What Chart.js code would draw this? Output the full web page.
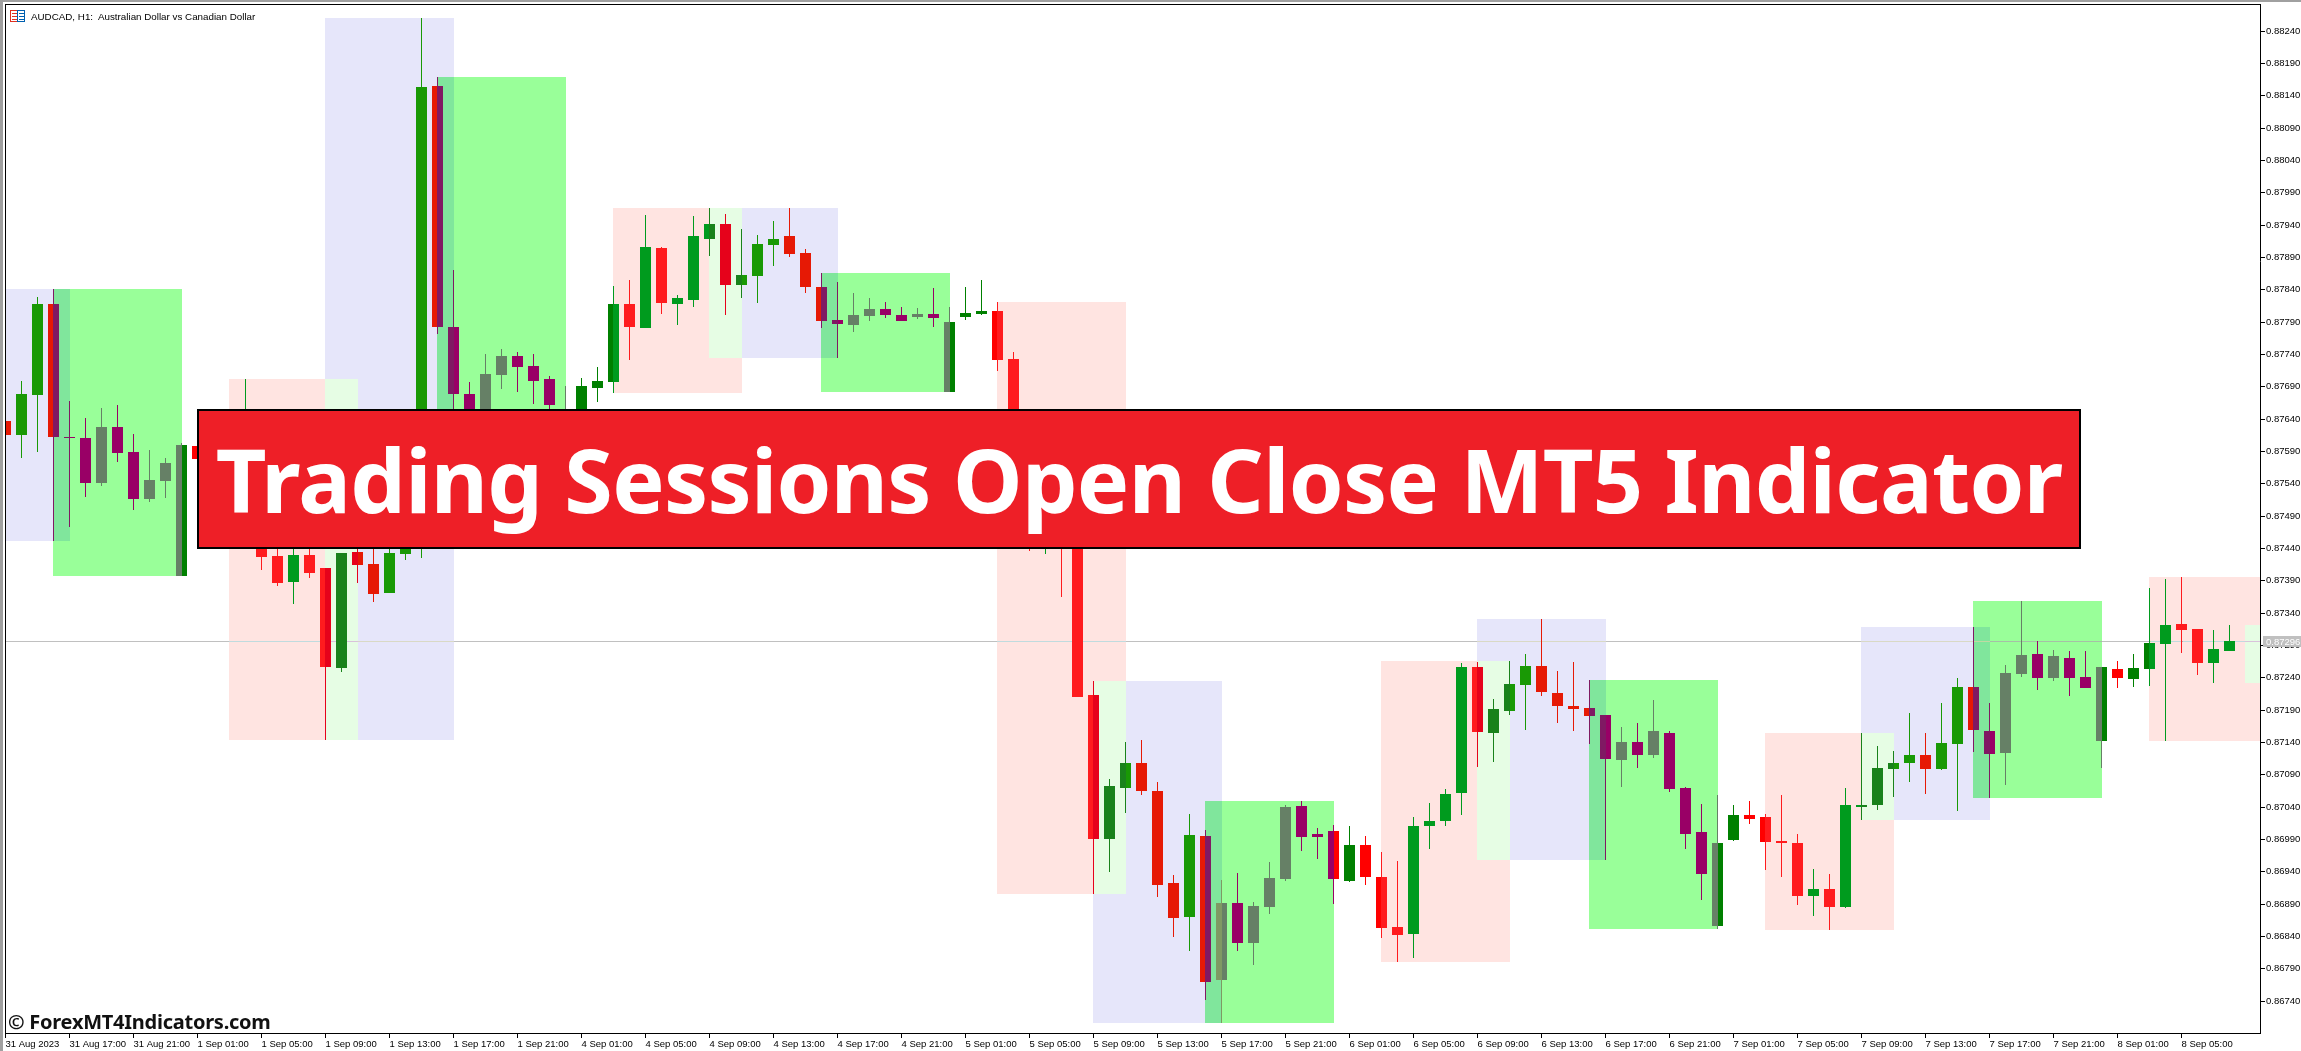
<!DOCTYPE html>
<html>
<head>
<meta charset="utf-8">
<title>AUDCAD H1 Trading Sessions</title>
<script src="https://cdn.jsdelivr.net/npm/chart.js@4/dist/chart.umd.min.js"></script>
<style>
    html, body { margin: 0; padding: 0; background: #fff; overflow: hidden; }
    #wrap { position: relative; width: 2301px; height: 1051px; }
    canvas { position: absolute; left: 0; top: 0; }
    .symbol { position: absolute; left: 31px; top: 10px; font: 9.8px/14px 'Liberation Sans', sans-serif; color: #000; white-space: pre; }
    .stamp { position: absolute; left: 8px; top: 1009px; font: bold 20px/26px 'Noto Sans', sans-serif; letter-spacing: -0.25px; color: #111; white-space: pre; }
    .banner { position: absolute; left: 197px; top: 409px; width: 1880px; height: 136px; border: 2px solid #000; background: #ee1f27; color: #fff; font: bold 88px/136px 'Noto Sans', sans-serif; letter-spacing: -0.7px; text-align: center; white-space: pre; }
</style>
</head>
<body>
<div id="wrap">
    <canvas id="canvas" width="2301" height="1051"></canvas>
    <div class="symbol">AUDCAD, H1:  Australian Dollar vs Canadian Dollar</div>
    <div class="stamp">© ForexMT4Indicators.com</div>
    <div class="banner">Trading Sessions Open Close MT5 Indicator</div>
</div>
<script>
const opens = [
    0.87636,0.87615,0.87676,0.87817,0.87611,0.87610,0.87540,0.87627,0.87588,0.87516,
    0.87543,0.87397,0.87598,0.87568,0.87530,0.87560,0.87499,0.87427,0.87387,0.87429,
    0.87409,0.87254,0.87434,0.87415,0.87370,0.87431,0.87452,0.88154,0.87782,0.87678,
    0.87622,0.87707,0.87737,0.87721,0.87701,0.87622,0.87607,0.87687,0.87697,0.87817,
    0.87780,0.87904,0.87817,0.87823,0.87918,0.87941,0.87846,0.87860,0.87908,0.87922,
    0.87896,0.87843,0.87792,0.87785,0.87799,0.87809,0.87800,0.87797,0.87802,0.87681,
    0.87797,0.87802,0.87806,0.87732,0.87560,0.87491,0.87537,0.87468,0.87213,0.86990,
    0.87069,0.87108,0.87064,0.86922,0.86870,0.86995,0.86772,0.86891,0.86829,0.86885,
    0.86928,0.87041,0.86998,0.87002,0.86925,0.86981,0.86931,0.86854,0.86843,0.87010,
    0.87018,0.87061,0.87256,0.87154,0.87188,0.87228,0.87257,0.87216,0.87196,0.87193,
    0.87182,0.87112,0.87140,0.87120,0.87154,0.87069,0.87001,0.86856,0.86988,0.87027,
    0.87024,0.86987,0.86984,0.86902,0.86913,0.86885,0.87040,0.87043,0.87098,0.87108,
    0.87120,0.87098,0.87137,0.87225,0.87157,0.87123,0.87245,0.87276,0.87239,0.87270,
    0.87240,0.87142,0.87253,0.87237,0.87253,0.87292,0.87322,0.87315,0.87262,0.87281
];
const highs = [
    0.87636,0.87698,0.87828,0.87840,0.87667,0.87641,0.87656,0.87661,0.87616,0.87591,
    0.87579,0.87602,0.87607,0.87576,0.87575,0.87701,0.87530,0.87480,0.87470,0.87465,
    0.87409,0.87432,0.87490,0.87480,0.87470,0.87490,0.88259,0.88168,0.87870,0.87697,
    0.87740,0.87748,0.87743,0.87740,0.87706,0.87690,0.87703,0.87720,0.87845,0.87854,
    0.87955,0.87905,0.87831,0.87953,0.87966,0.87956,0.87933,0.87924,0.87945,0.87966,
    0.87902,0.87865,0.87851,0.87834,0.87826,0.87820,0.87812,0.87811,0.87842,0.87812,
    0.87843,0.87854,0.87820,0.87743,0.87607,0.87560,0.87560,0.87483,0.87234,0.87083,
    0.87140,0.87143,0.87078,0.86934,0.87029,0.87004,0.86927,0.86937,0.86893,0.86955,
    0.87043,0.87049,0.87007,0.87012,0.87010,0.86995,0.86970,0.86956,0.87024,0.87046,
    0.87067,0.87262,0.87264,0.87206,0.87265,0.87276,0.87330,0.87250,0.87264,0.87236,
    0.87182,0.87163,0.87169,0.87205,0.87157,0.87071,0.87044,0.87058,0.87043,0.87049,
    0.87029,0.87058,0.86998,0.86944,0.86936,0.87069,0.87154,0.87134,0.87126,0.87185,
    0.87154,0.87200,0.87239,0.87318,0.87200,0.87259,0.87358,0.87296,0.87282,0.87281,
    0.87281,0.87256,0.87265,0.87276,0.87378,0.87392,0.87395,0.87315,0.87313,0.87321
];
const lows = [
    0.87615,0.87579,0.87588,0.87451,0.87472,0.87519,0.87536,0.87573,0.87499,0.87511,
    0.87517,0.87397,0.87568,0.87483,0.87510,0.87530,0.87406,0.87381,0.87353,0.87394,
    0.87143,0.87248,0.87386,0.87356,0.87370,0.87421,0.87424,0.87771,0.87607,0.87599,
    0.87607,0.87686,0.87681,0.87662,0.87638,0.87607,0.87591,0.87666,0.87680,0.87730,
    0.87780,0.87802,0.87785,0.87812,0.87891,0.87800,0.87826,0.87819,0.87876,0.87890,
    0.87834,0.87780,0.87734,0.87774,0.87791,0.87795,0.87791,0.87794,0.87782,0.87681,
    0.87792,0.87800,0.87714,0.87553,0.87435,0.87431,0.87364,0.87210,0.86905,0.86939,
    0.87030,0.87058,0.86900,0.86839,0.86817,0.86741,0.86706,0.86817,0.86795,0.86874,
    0.86925,0.86972,0.86959,0.86890,0.86924,0.86919,0.86837,0.86800,0.86806,0.86975,
    0.87010,0.87027,0.87101,0.87109,0.87182,0.87159,0.87211,0.87169,0.87157,0.87137,
    0.86958,0.87071,0.87100,0.87115,0.87063,0.86975,0.86896,0.86851,0.86987,0.87013,
    0.86942,0.86931,0.86888,0.86871,0.86849,0.86883,0.87019,0.87035,0.87055,0.87078,
    0.87060,0.87097,0.87033,0.87125,0.87053,0.87074,0.87240,0.87220,0.87234,0.87211,
    0.87224,0.87100,0.87224,0.87225,0.87227,0.87142,0.87278,0.87244,0.87231,0.87281
];
const closes = [
    0.87615,0.87678,0.87817,0.87611,0.87610,0.87540,0.87627,0.87587,0.87516,0.87545,
    0.87571,0.87599,0.87577,0.87530,0.87560,0.87620,0.87426,0.87386,0.87429,0.87401,
    0.87256,0.87432,0.87414,0.87369,0.87432,0.87468,0.88152,0.87782,0.87678,0.87622,
    0.87709,0.87737,0.87720,0.87698,0.87661,0.87645,0.87690,0.87698,0.87817,0.87782,
    0.87905,0.87819,0.87826,0.87922,0.87941,0.87846,0.87862,0.87910,0.87918,0.87894,
    0.87843,0.87791,0.87786,0.87800,0.87809,0.87800,0.87791,0.87802,0.87795,0.87789,
    0.87803,0.87806,0.87730,0.87560,0.87499,0.87537,0.87468,0.87210,0.86990,0.87072,
    0.87108,0.87064,0.86919,0.86868,0.86996,0.86769,0.86891,0.86829,0.86887,0.86930,
    0.87040,0.86993,0.86993,0.86928,0.86981,0.86931,0.86852,0.86842,0.87010,0.87018,
    0.87060,0.87256,0.87155,0.87191,0.87230,0.87257,0.87217,0.87196,0.87191,0.87180,
    0.87114,0.87140,0.87120,0.87157,0.87067,0.86998,0.86936,0.86984,0.87027,0.87021,
    0.86985,0.86984,0.86902,0.86913,0.86885,0.87043,0.87043,0.87100,0.87108,0.87120,
    0.87098,0.87138,0.87225,0.87159,0.87122,0.87247,0.87274,0.87239,0.87273,0.87239,
    0.87224,0.87256,0.87239,0.87254,0.87293,0.87321,0.87313,0.87262,0.87284,0.87296
];

// session boxes, given in bar numbers and prices
const asiaStart = [14, 38, 62, 86, 110, 134];
const asiaEnd   = [22, 46, 70, 94, 118, 142];
const asiaHigh  = [0.87701, 0.87966, 0.87820, 0.87265, 0.87154, 0.87395];
const asiaLow   = [0.87143, 0.87680, 0.86905, 0.86800, 0.86849, 0.87142];

const europeStart = [-4, 20, 44, 68, 92, 116, 140];
const europeEnd   = [4, 28, 52, 76, 100, 124, 148];
const europeHigh  = [0.87840, 0.88259, 0.87966, 0.87234, 0.87330, 0.87318, 0.87321];
const europeLow   = [0.87451, 0.87143, 0.87734, 0.86706, 0.86958, 0.87019, 0.87231];

const usStart = [3, 27, 51, 75, 99, 123];
const usEnd   = [11, 35, 59, 83, 107, 131];
const usHigh  = [0.87840, 0.88168, 0.87865, 0.87049, 0.87236, 0.87358];
const usLow   = [0.87397, 0.87599, 0.87681, 0.86706, 0.86851, 0.87053];

const timeLabels = [
    '31 Aug 2023', '31 Aug 17:00', '31 Aug 21:00',
    '1 Sep 01:00', '1 Sep 05:00', '1 Sep 09:00', '1 Sep 13:00', '1 Sep 17:00', '1 Sep 21:00',
    '4 Sep 01:00', '4 Sep 05:00', '4 Sep 09:00', '4 Sep 13:00', '4 Sep 17:00', '4 Sep 21:00',
    '5 Sep 01:00', '5 Sep 05:00', '5 Sep 09:00', '5 Sep 13:00', '5 Sep 17:00', '5 Sep 21:00',
    '6 Sep 01:00', '6 Sep 05:00', '6 Sep 09:00', '6 Sep 13:00', '6 Sep 17:00', '6 Sep 21:00',
    '7 Sep 01:00', '7 Sep 05:00', '7 Sep 09:00', '7 Sep 13:00', '7 Sep 17:00', '7 Sep 21:00',
    '8 Sep 01:00', '8 Sep 05:00'
];
const priceTicks = [
    0.88240, 0.88190, 0.88140, 0.88090, 0.88040, 0.87990, 0.87940, 0.87890, 0.87840, 0.87790, 0.87740,
    0.87690, 0.87640, 0.87590, 0.87540, 0.87490, 0.87440, 0.87390, 0.87340, 0.87290, 0.87240, 0.87190,
    0.87140, 0.87090, 0.87040, 0.86990, 0.86940, 0.86890, 0.86840, 0.86790, 0.86740
];
const bidPrice = 0.87296;

const UP = '#008000';
const DOWN = '#ff0000';
const AXIS_FONT = { family: "'Liberation Sans', sans-serif", size: 9.5 };

const sessions = [
    { start: asiaStart, end: asiaEnd, high: asiaHigh, low: asiaLow, fill: [0xff, 0xe4, 0xe1] },
    { start: europeStart, end: europeEnd, high: europeHigh, low: europeLow, fill: [0xe6, 0xe6, 0xfa] },
    { start: usStart, end: usEnd, high: usHigh, low: usLow, fill: [0x99, 0xff, 0x99] }
];

// MT5 paints its filled rectangles in xor mode, so candles change colour underneath them
function xorBox(ctx, area, x0, x1, y0, y1, fill) {
    const left = Math.max(Math.floor(x0), area.left + 1);
    const right = Math.min(Math.floor(x1) + 1, area.right);
    const top = Math.max(y0, area.top + 1);
    const bottom = Math.min(y1, area.bottom);
    if (right <= left || bottom <= top) return;
    const img = ctx.getImageData(left, top, right - left, bottom - top);
    for (let p = 0; p < img.data.length; p += 4) {
        img.data[p] ^= 255 - fill[0];
        img.data[p + 1] ^= 255 - fill[1];
        img.data[p + 2] ^= 255 - fill[2];
    }
    ctx.putImageData(img, left, top);
}

const terminalPlugin = {
    id: 'terminal',
    beforeDraw(chart) {
        const { ctx, width, height } = chart;
        ctx.save();
        ctx.fillStyle = '#fff';
        ctx.fillRect(0, 0, width, height);
        ctx.restore();
    },
    beforeDatasetsUpdate(chart) {
        // whole pixels keep the candle edges crisp, as in the terminal
        const y = chart.scales.y;
        if (!y._snapped) {
            const exact = y.getPixelForValue.bind(y);
            y.getPixelForValue = v => Math.round(exact(v));
            y._snapped = true;
        }
    },
    beforeDatasetsDraw(chart) {
        const { ctx, chartArea: area, scales } = chart;
        ctx.save();
        ctx.fillStyle = '#c0c0c0';
        ctx.fillRect(area.left, scales.y.getPixelForValue(bidPrice), area.right - area.left, 1);
        ctx.restore();
    },
    afterDatasetsDraw(chart) {
        const { ctx, chartArea: area, scales } = chart;
        sessions.forEach(s => s.start.forEach((first, k) => {
            xorBox(ctx, area,
                scales.x.getPixelForValue(first), scales.x.getPixelForValue(s.end[k]),
                scales.y.getPixelForValue(s.high[k]), scales.y.getPixelForValue(s.low[k]), s.fill);
        }));
    },
    afterDraw(chart) {
        const { ctx, chartArea: area, width, height, scales } = chart;
        ctx.save();
        // window frame
        ctx.fillStyle = '#a0a0a0';
        ctx.fillRect(0, 0, width, 2);
        ctx.fillRect(0, 0, 3, height);
        ctx.fillStyle = '#000';
        ctx.fillRect(area.left, area.top, area.right - area.left + 1, 1);
        ctx.fillRect(area.left, area.top, 1, area.bottom - area.top + 1);
        // chart icon
        ctx.strokeStyle = '#e03020';
        ctx.strokeRect(10.5, 10.5, 7, 11);
        ctx.strokeStyle = '#0060b0';
        ctx.strokeRect(17.5, 10.5, 7, 11);
        [13.5, 16.5, 19.5].forEach(row => {
            ctx.strokeStyle = '#e03020';
            ctx.beginPath(); ctx.moveTo(12, row); ctx.lineTo(17, row); ctx.stroke();
            ctx.strokeStyle = '#0060b0';
            ctx.beginPath(); ctx.moveTo(19, row); ctx.lineTo(24, row); ctx.stroke();
        });
        // bid price tag
        const tagY = scales.y.getPixelForValue(bidPrice);
        ctx.fillStyle = '#c0c0c0';
        ctx.fillRect(area.right + 3, tagY - 5, width - area.right - 3, 11);
        ctx.fillStyle = '#fff';
        ctx.font = `${AXIS_FONT.size}px ${AXIS_FONT.family}`;
        ctx.textBaseline = 'middle';
        ctx.fillText(bidPrice.toFixed(5), area.right + 6, tagY + 1);
        ctx.restore();
    }
};

new Chart(document.getElementById('canvas'), {
    type: 'bar',
    data: {
        datasets: [
            {
                label: 'wick',
                data: highs.map((h, i) => ({ x: i, y: [lows[i], h] })),
                backgroundColor: closes.map((c, i) => (c >= opens[i] ? UP : DOWN)),
                barThickness: 1,
                inflateAmount: 0,
                grouped: false
            },
            {
                label: 'body',
                data: closes.map((c, i) => ({ x: i, y: [opens[i], c] })),
                backgroundColor: closes.map((c, i) => (c >= opens[i] ? UP : DOWN)),
                barThickness: 11,
                inflateAmount: 0,
                grouped: false
            }
        ]
    },
    options: {
        responsive: false,
        animation: false,
        devicePixelRatio: 1,
        layout: { padding: { left: 5, top: 4 } },
        plugins: { legend: { display: false }, tooltip: { enabled: false } },
        scales: {
            x: {
                type: 'linear',
                offset: false,
                min: -0.03125,
                max: 140.906,
                afterBuildTicks: scale => { scale.ticks = timeLabels.map((_, k) => ({ value: k * 4 })); },
                afterFit: scale => {
                    scale.height = 18;
                    scale.paddingLeft = 0;
                    scale.paddingRight = 0;
                },
                border: { color: '#000', width: 1 },
                grid: { offset: false, drawOnChartArea: false, tickLength: 5, tickColor: '#000' },
                ticks: {
                    callback: value => timeLabels[value / 4],
                    autoSkip: false,
                    maxRotation: 0,
                    align: 'start',
                    padding: 1,
                    color: '#000',
                    font: AXIS_FONT
                }
            },
            y: {
                position: 'right',
                min: 0.86690,
                max: 0.88281,
                afterBuildTicks: scale => { scale.ticks = priceTicks.map(value => ({ value })); },
                afterFit: scale => {
                    scale.width = 41;
                    // keep the plot edge fixed, the labels never reach it
                    scale.paddingTop = 0;
                    scale.paddingBottom = 0;
                },
                border: { color: '#000', width: 1 },
                grid: { drawOnChartArea: false, tickLength: 5, tickColor: '#000' },
                ticks: {
                    callback: value => value.toFixed(5),
                    autoSkip: false,
                    padding: 1,
                    color: '#000',
                    font: AXIS_FONT
                }
            }
        }
    },
    plugins: [terminalPlugin]
});
</script>
</body>
</html>
